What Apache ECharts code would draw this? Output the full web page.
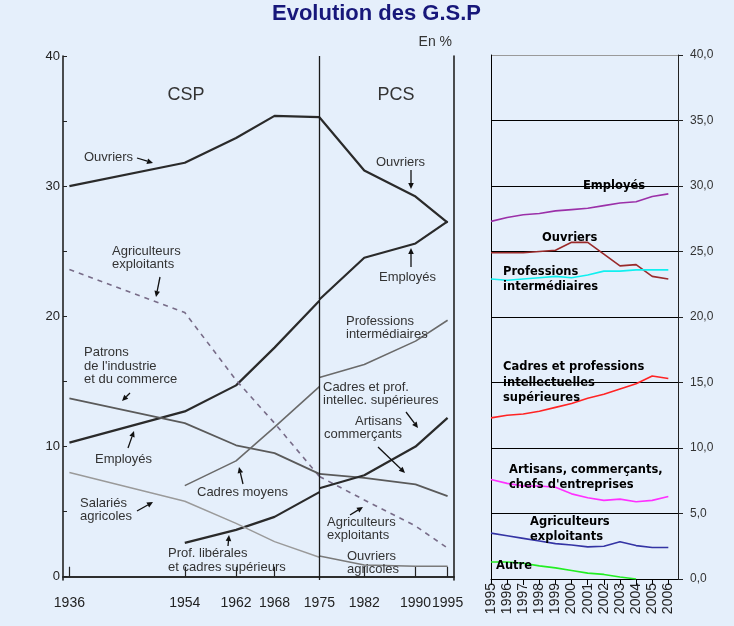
<!DOCTYPE html>
<html><head><meta charset="utf-8">
<script src="https://cdn.jsdelivr.net/npm/echarts@6/dist/echarts.min.js"></script>
<style>html,body{margin:0;padding:0;background:#e5effb;} #c{width:734px;height:626px;}</style>
</head><body><div id="c"></div>
<script>
// ---- Left panel data (CSP 1936-1975, PCS 1975-1995) ----
const cspYears = [1936, 1954, 1962, 1968, 1975];
const pcsYears = [1975, 1982, 1990, 1995];
const leftLabelYears = [1936, 1954, 1962, 1968, 1975, 1982, 1990, 1995];
const leftTickYears = [1936, 1954, 1962, 1968, 1982, 1990, 1995];
const csp_ouvriers = [30.0, 31.8, 33.7, 35.4, 35.3];
const pcs_ouvriers = [35.3, 31.2, 29.2, 27.2];
const csp_employes = [10.3, 12.7, 14.7, 17.6, 21.2];
const pcs_employes = [21.3, 24.5, 25.6, 27.3];
const csp_agriculteurs = [23.6, 20.3, 15.1, 11.8, 7.7];
const pcs_agriculteurs = [7.7, 5.9, 3.9, 2.2];
const csp_patrons = [13.7, 11.8, 10.1, 9.5, 7.9];
const pcs_artisans = [7.9, 7.6, 7.1, 6.2];
const csp_cadresMoyens = [null, 7.0, 8.9, 11.5, 14.6];
const pcs_profInter = [15.3, 16.3, 18.1, 19.7];
const csp_profLib = [null, 2.6, 3.6, 4.6, 6.5];
const pcs_cadresSup = [6.8, 7.8, 10.0, 12.2];
const csp_salariesAgr = [8.0, 5.8, 4.1, 2.7, 1.5];
const pcs_ouvriersAgr = [1.6, 0.9, 0.8, 0.8];
const leftYTicks = [0, 5, 10, 15, 20, 25, 30, 35, 40];
const leftYLabels = [0, 10, 20, 30, 40];

// ---- Right panel data (1995-2006) ----
const rYears = [1995, 1996, 1997, 1998, 1999, 2000, 2001, 2002, 2003, 2004, 2005, 2006];
const r_employes = [27.3, 27.6, 27.8, 27.9, 28.1, 28.2, 28.3, 28.5, 28.7, 28.8, 29.2, 29.4];
const r_ouvriers = [24.9, 24.9, 24.9, 25.0, 25.1, 25.7, 25.7, 24.8, 23.9, 24.0, 23.1, 22.9];
const r_profInter = [22.9, 22.8, 22.9, 23.0, 23.1, 23.0, 23.2, 23.5, 23.5, 23.6, 23.6, 23.6];
const r_cadres = [12.3, 12.5, 12.6, 12.8, 13.1, 13.4, 13.8, 14.1, 14.5, 14.9, 15.5, 15.3];
const r_artisans = [7.6, 7.3, 7.1, 7.1, 7.0, 6.5, 6.2, 6.0, 6.1, 5.9, 6.0, 6.3];
const r_agriculteurs = [3.5, 3.3, 3.1, 2.9, 2.7, 2.6, 2.45, 2.5, 2.85, 2.55, 2.4, 2.4];
const r_autre = [1.3, 1.3, 1.2, 1.0, 0.85, 0.65, 0.45, 0.35, 0.15, 0.0, null, null];

function pairs(xs, ys) {
  return xs.map((x, i) => [x, ys[i]]).filter(p => p[1] !== null && p[1] !== undefined);
}

const FONT = 'Liberation Sans, Arial, sans-serif';
const BOLDF = 'bold 11.5px "DejaVu Sans", sans-serif';

function lineSeries(xi, yi, xs, ys, color, width, type) {
  return {
    type: 'line', xAxisIndex: xi, yAxisIndex: yi, data: pairs(xs, ys),
    symbol: 'none', silent: true, animation: false,
    lineStyle: { color: color, width: width, type: type || 'solid' }
  };
}

const series = [];
const s0 = lineSeries(0, 0, cspYears, csp_ouvriers, '#2a2a2a', 2.2);
s0.markLine = { symbol: 'none', silent: true, animation: false, label: { show: false },
  lineStyle: { color: '#1a1a1a', width: 1.3, type: 'solid' }, data: [{ xAxis: 1975 }] };
series.push(s0);
series.push(lineSeries(0, 0, pcsYears, pcs_ouvriers, '#2a2a2a', 2.2));
series.push(lineSeries(0, 0, cspYears, csp_employes, '#2a2a2a', 2.2));
series.push(lineSeries(0, 0, pcsYears, pcs_employes, '#2a2a2a', 2.2));
series.push(lineSeries(0, 0, cspYears, csp_agriculteurs, '#786c88', 1.6, [5, 5]));
series.push(lineSeries(0, 0, pcsYears, pcs_agriculteurs, '#786c88', 1.6, [5, 5]));
series.push(lineSeries(0, 0, cspYears, csp_patrons, '#5a5a5a', 1.8));
series.push(lineSeries(0, 0, pcsYears, pcs_artisans, '#5a5a5a', 1.8));
series.push(lineSeries(0, 0, cspYears, csp_cadresMoyens, '#6a6a6a', 1.6));
series.push(lineSeries(0, 0, pcsYears, pcs_profInter, '#6a6a6a', 1.6));
series.push(lineSeries(0, 0, cspYears, csp_profLib, '#2a2a2a', 2.2));
series.push(lineSeries(0, 0, pcsYears, pcs_cadresSup, '#2a2a2a', 2.2));
series.push(lineSeries(0, 0, cspYears, csp_salariesAgr, '#9a9a9a', 1.5));
series.push(lineSeries(0, 0, pcsYears, pcs_ouvriersAgr, '#7a7a7a', 1.5));

series.push(lineSeries(2, 2, rYears, r_employes, '#9b30a8', 1.6));
series.push(lineSeries(2, 2, rYears, r_ouvriers, '#9a2a2a', 1.6));
series.push(lineSeries(2, 2, rYears, r_profInter, '#10f0f0', 1.6));
series.push(lineSeries(2, 2, rYears, r_cadres, '#ff2424', 1.6));
series.push(lineSeries(2, 2, rYears, r_artisans, '#ff30ff', 1.6));
series.push(lineSeries(2, 2, rYears, r_agriculteurs, '#3434a4', 1.6));
series.push(lineSeries(2, 2, rYears, r_autre, '#22ee22', 1.6));

// ---- annotations ----
function txt(x, y, s, font, fill, align) {
  return { type: 'text', x: x, y: y, silent: true, z: 100,
    style: { text: s, font: font, fill: fill, align: align || 'left', verticalAlign: 'middle' } };
}
function arrow(x1, y1, x2, y2) {
  const a = Math.atan2(y2 - y1, x2 - x1), L = 6, W = 2.8;
  const bx = x2 - L * Math.cos(a), by = y2 - L * Math.sin(a);
  const px = -Math.sin(a) * W, py = Math.cos(a) * W;
  return [
    { type: 'line', silent: true, z: 100, shape: { x1: x1, y1: y1, x2: bx, y2: by }, style: { stroke: '#111', lineWidth: 1.3 } },
    { type: 'polygon', silent: true, z: 100, shape: { points: [[x2, y2], [bx + px, by + py], [bx - px, by - py]] }, style: { fill: '#111' } }
  ];
}
const AF = '13px ' + FONT, AC = '#333';
const g = [];
g.push(txt(452, 42, 'En %', '14px ' + FONT, '#333', 'right'));
g.push(txt(186, 95, 'CSP', '18px ' + FONT, '#333', 'center'));
g.push(txt(396, 95, 'PCS', '18px ' + FONT, '#333', 'center'));
g.push(txt(84, 157, 'Ouvriers', AF, AC)); g.push(...arrow(137, 158, 153, 163));
g.push(txt(112, 251, 'Agriculteurs', AF, AC)); g.push(txt(112, 264, 'exploitants', AF, AC));
g.push(...arrow(160, 277, 156, 297));
g.push(txt(376, 162, 'Ouvriers', AF, AC)); g.push(...arrow(411, 170, 411, 189));
g.push(txt(379, 277, 'Employés', AF, AC)); g.push(...arrow(411, 267, 411, 248));
g.push(txt(346, 321, 'Professions', AF, AC)); g.push(txt(346, 334, 'intermédiaires', AF, AC));
g.push(txt(323, 387, 'Cadres et prof.', AF, AC)); g.push(txt(323, 400, 'intellec. supérieures', AF, AC));
g.push(...arrow(406, 412, 418, 428));
g.push(txt(355, 421, 'Artisans', AF, AC)); g.push(txt(324, 434, 'commerçants', AF, AC));
g.push(...arrow(378, 447, 405, 473));
g.push(txt(327, 522, 'Agriculteurs', AF, AC)); g.push(txt(327, 535, 'exploitants', AF, AC));
g.push(...arrow(350, 515, 363, 507));
g.push(txt(347, 556, 'Ouvriers', AF, AC)); g.push(txt(347, 569, 'agricoles', AF, AC));
g.push(txt(84, 352, 'Patrons', AF, AC)); g.push(txt(84, 366, "de l'industrie", AF, AC)); g.push(txt(84, 379, 'et du commerce', AF, AC));
g.push(...arrow(130, 393, 122, 401));
g.push(txt(95, 459, 'Employés', AF, AC)); g.push(...arrow(128, 448, 134, 431));
g.push(txt(197, 492, 'Cadres moyens', AF, AC)); g.push(...arrow(243, 484, 239, 467));
g.push(txt(80, 503, 'Salariés', AF, AC)); g.push(txt(80, 516, 'agricoles', AF, AC));
g.push(...arrow(137, 511, 153, 502));
g.push(txt(168, 553, 'Prof. libérales', AF, AC)); g.push(txt(168, 567, 'et cadres supérieurs', AF, AC));
g.push(...arrow(228, 546, 229, 535));
// right panel labels
g.push(txt(583, 186, 'Employés', BOLDF, '#000'));
g.push(txt(542, 238, 'Ouvriers', BOLDF, '#000'));
g.push(txt(503, 272, 'Professions', BOLDF, '#000'));
g.push(txt(503, 287, 'intermédiaires', BOLDF, '#000'));
g.push(txt(503, 367, 'Cadres et professions', BOLDF, '#000'));
g.push(txt(503, 383, 'intellectuelles', BOLDF, '#000'));
g.push(txt(503, 398, 'supérieures', BOLDF, '#000'));
g.push(txt(509, 470, 'Artisans, commerçants,', BOLDF, '#000'));
g.push(txt(509, 485, "chefs d'entreprises", BOLDF, '#000'));
g.push(txt(530, 522, 'Agriculteurs', BOLDF, '#000'));
g.push(txt(530, 537, 'exploitants', BOLDF, '#000'));
g.push(txt(496, 566, 'Autre', BOLDF, '#000'));

const splitColors = ['#000', '#000', '#000', '#000', '#000', '#000', '#000', '#000', '#9a9a9a'];

const option = {
  backgroundColor: '#e5effb',
  animation: false,
  title: { text: 'Evolution des G.S.P', left: 272, top: 3, padding: 0,
    textStyle: { fontSize: 22, fontWeight: 'bold', color: '#17177a', fontFamily: FONT } },
  grid: [
    { left: 63, top: 56, width: 391, height: 524 },
    { left: 491, top: 55, width: 187, height: 524 }
  ],
  xAxis: [
    { type: 'value', gridIndex: 0, min: 1935, max: 1996, position: 'bottom',
      axisLine: { show: true, lineStyle: { color: '#222', width: 1.6 } },
      axisTick: { show: true, inside: true, length: 10, customValues: leftTickYears, lineStyle: { color: '#222', width: 1.2 } },
      axisLabel: { customValues: leftLabelYears, margin: 16, fontSize: 14, color: '#222', fontFamily: FONT, formatter: v => String(v) },
      splitLine: { show: false } },
    { type: 'value', gridIndex: 0, min: 1935, max: 1996, position: 'top',
      axisLine: { show: true, lineStyle: { color: '#222', width: 1.6 } },
      axisTick: { show: false }, axisLabel: { show: false }, splitLine: { show: false } },
    { type: 'value', gridIndex: 1, min: 1995, max: 2006.6, position: 'bottom',
      axisLine: { show: true, lineStyle: { color: '#000', width: 1 } },
      axisTick: { show: true, length: 6, customValues: rYears, lineStyle: { color: '#000' } },
      axisLabel: { customValues: rYears, rotate: 90, margin: 4, fontSize: 14, color: '#222', fontFamily: FONT, formatter: v => String(v) },
      splitLine: { show: false } }
  ],
  yAxis: [
    { type: 'value', gridIndex: 0, min: -0.25, max: 40, position: 'left',
      axisLine: { show: true, lineStyle: { color: '#222', width: 1.6 } },
      axisTick: { show: true, inside: true, length: 4, customValues: leftYTicks, lineStyle: { color: '#222' } },
      axisLabel: { customValues: leftYLabels, margin: 3, fontSize: 13, color: '#222', fontFamily: FONT },
      splitLine: { show: false } },
    { type: 'value', gridIndex: 0, min: -0.25, max: 40, position: 'right',
      axisLine: { show: true, lineStyle: { color: '#222', width: 1.6 } },
      axisTick: { show: false }, axisLabel: { show: false }, splitLine: { show: false } },
    { type: 'value', gridIndex: 1, min: 0, max: 40, interval: 5, position: 'right',
      axisLine: { show: true, lineStyle: { color: '#222', width: 1 } },
      axisTick: { show: true, length: 5, lineStyle: { color: '#222' } },
      axisLabel: { margin: 12, fontSize: 12, color: '#333', fontFamily: FONT, formatter: v => v.toFixed(1).replace('.', ',') },
      splitLine: { show: true, lineStyle: { color: splitColors, width: 1 } } },
    { type: 'value', gridIndex: 1, min: 0, max: 40, position: 'left',
      axisLine: { show: true, lineStyle: { color: '#000', width: 1 } },
      axisTick: { show: false }, axisLabel: { show: false }, splitLine: { show: false } }
  ],
  series: series,
  graphic: g
};
const chart = echarts.init(document.getElementById('c'), null, { renderer: 'canvas' });
chart.setOption(option);
</script>
</body></html>
